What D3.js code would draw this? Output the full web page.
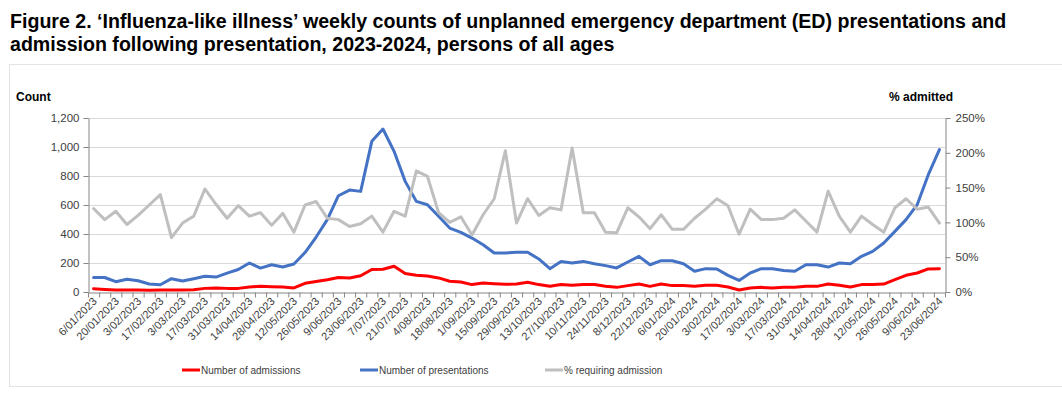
<!DOCTYPE html>
<html>
<head>
<meta charset="utf-8">
<script src="https://cdn.jsdelivr.net/npm/d3@7"></script>
<style>
  body { margin: 0; background: #fff; }
  svg { display: block; font-family: "Liberation Sans", Arial, sans-serif; }
  .title { font-weight: bold; font-size: 19.6px; fill: #000; }
  .axis text { font-size: 11.5px; fill: #404040; }
  .axis .domain, .axis line { stroke: #868686; }
  .xlab { font-size: 11px; fill: #404040; }
  .legend text { font-size: 10px; fill: #404040; }
</style>
</head>
<body>
<div id="chart"></div>
<script>
// tick labels on the category axis (one every second week)
const tickLabels = [
  '6/01/2023', '20/01/2023', '3/02/2023', '17/02/2023', '3/03/2023', '17/03/2023',
  '31/03/2023', '14/04/2023', '28/04/2023', '12/05/2023', '26/05/2023', '9/06/2023',
  '23/06/2023', '7/07/2023', '21/07/2023', '4/08/2023', '18/08/2023', '1/09/2023',
  '15/09/2023', '29/09/2023', '13/10/2023', '27/10/2023', '10/11/2023', '24/11/2023',
  '8/12/2023', '22/12/2023', '6/01/2024', '20/01/2024', '3/02/2024', '17/02/2024',
  '3/03/2024', '17/03/2024', '31/03/2024', '14/04/2024', '28/04/2024', '12/05/2024',
  '26/05/2024', '9/06/2024', '23/06/2024'
];

const admissions = [
  23, 18, 14, 14, 14, 12, 14, 14, 14, 16, 25, 28, 25, 25, 35, 39, 37, 34, 28, 60,
  72, 85, 100, 97, 112, 155, 157, 178, 128, 115, 110, 97, 74, 69, 51, 62, 57, 53, 55, 67,
  51, 39, 51, 46, 51, 51, 39, 32, 44, 55, 39, 55, 44, 44, 39, 46, 46, 34, 14, 28,
  32, 28, 32, 32, 39, 39, 55, 46, 34, 51, 51, 55, 85, 115, 131, 159, 161
];

const presentations = [
  100, 100, 71, 88, 78, 55, 50, 92, 76, 92, 108, 103, 130, 155, 200, 165, 188, 172, 193, 272,
  379, 499, 664, 703, 694, 1039, 1124, 970, 763, 625, 602, 522, 441, 411, 372, 326, 269, 269, 274, 274,
  228, 161, 211, 200, 211, 195, 182, 166, 207, 246, 188, 216, 216, 195, 143, 161, 159, 115, 80, 131,
  161, 161, 149, 143, 188, 188, 172, 200, 195, 246, 280, 338, 418, 499, 602, 809, 982
];

// % requiring admission (secondary axis)
const pctAdmitted = [
  120, 104, 116, 97, 110, 125, 140, 78, 99, 109, 148, 126, 106, 124, 109, 114, 96, 113, 86, 125,
  130, 106, 104, 94, 98, 109, 86, 116, 109, 174, 166, 114, 100, 108, 82, 111, 134, 203, 99, 134,
  110, 121, 118, 207, 114, 114, 86, 85, 121, 108, 91, 111, 90, 90, 106, 119, 134, 124, 83, 119,
  104, 104, 106, 118, 102, 86, 145, 109, 86, 109, 97, 86, 121, 134, 119, 122, 99
];

const countTicks = [0, 200, 400, 600, 800, 1000, 1200];
const pctTicks = [0, 50, 100, 150, 200, 250];

const width = 1062;
const height = 396;
const plot = { left: 88, right: 945, top: 118, bottom: 292 };

const svg = d3.select('#chart').append('svg')
  .attr('width', width)
  .attr('height', height);

svg.append('rect')
  .attr('x', 9.5).attr('y', 64.5)
  .attr('width', 1070).attr('height', 322)
  .attr('fill', 'none')
  .attr('stroke', '#e3e3e3');

svg.append('text').attr('class', 'title')
  .attr('x', 10).attr('y', 28)
  .text('Figure 2. \u2018Influenza-like illness\u2019 weekly counts of unplanned emergency department (ED) presentations and');
svg.append('text').attr('class', 'title')
  .attr('x', 10).attr('y', 51)
  .text('admission following presentation, 2023-2024, persons of all ages');

const idx = d3.range(presentations.length);

const x = d3.scaleBand()
  .domain(idx)
  .range([plot.left, plot.right]);

// category boundaries, for the tick marks
const xEdge = d3.scaleLinear()
  .domain([0, idx.length])
  .range([plot.left, plot.right]);

const yLeft = d3.scaleLinear().domain([0, 1200]).range([plot.bottom, plot.top]);
const yRight = d3.scaleLinear().domain([0, 250]).range([plot.bottom, plot.top]);

// gridlines
svg.append('g')
  .selectAll('line')
  .data(countTicks.slice(1))
  .join('line')
  .attr('x1', plot.left).attr('x2', plot.right)
  .attr('y1', d => yLeft(d) + 0.5).attr('y2', d => yLeft(d) + 0.5)
  .attr('stroke', '#d9d9d9');

svg.append('g')
  .attr('class', 'axis')
  .attr('transform', `translate(${plot.left + 0.5},0)`)
  .call(d3.axisLeft(yLeft).tickValues(countTicks).tickSize(5).tickSizeOuter(0).tickPadding(4).tickFormat(d3.format(',')));

svg.append('g')
  .attr('class', 'axis')
  .attr('transform', `translate(${plot.right + 0.5},0)`)
  .call(d3.axisRight(yRight).tickValues(pctTicks).tickSize(5).tickSizeOuter(0).tickPadding(5).tickFormat(d => d + '%'));

svg.append('g')
  .attr('class', 'axis')
  .attr('transform', `translate(0,${plot.bottom + 0.5})`)
  .call(d3.axisBottom(xEdge).tickValues(d3.range(idx.length + 1)).tickSize(5).tickSizeOuter(0).tickFormat(''));

// rotated category labels
svg.append('g')
  .selectAll('text')
  .data(tickLabels)
  .join('text')
  .attr('class', 'xlab')
  .attr('text-anchor', 'end')
  .attr('transform', (d, k) => `translate(${x(k * 2) + x.bandwidth() / 2 + 4},${plot.bottom + 10}) rotate(-45)`)
  .text(d => d);

svg.append('text')
  .attr('x', 16).attr('y', 101)
  .attr('font-size', 12).attr('font-weight', 'bold')
  .text('Count');
svg.append('text')
  .attr('x', 889).attr('y', 101)
  .attr('font-size', 12).attr('font-weight', 'bold')
  .text('% admitted');

const cx = i => x(i) + x.bandwidth() / 2;

const series = [
  { name: 'Number of admissions', values: admissions, scale: yLeft, color: '#ff0000' },
  { name: 'Number of presentations', values: presentations, scale: yLeft, color: '#4472c4' },
  { name: '% requiring admission', values: pctAdmitted, scale: yRight, color: '#bfbfbf' }
];

series.forEach(s => {
  const line = d3.line()
    .x((d, i) => cx(i))
    .y(d => s.scale(d));
  svg.append('path')
    .datum(s.values)
    .attr('d', line)
    .attr('fill', 'none')
    .attr('stroke', s.color)
    .attr('stroke-width', 3)
    .attr('stroke-linejoin', 'round')
    .attr('stroke-linecap', 'round');
});

// legend
const legendX = [182, 360, 545];
const legend = svg.append('g').attr('class', 'legend');
series.forEach((s, k) => {
  legend.append('line')
    .attr('x1', legendX[k]).attr('x2', legendX[k] + 18)
    .attr('y1', 370).attr('y2', 370)
    .attr('stroke', s.color).attr('stroke-width', 3);
  legend.append('text')
    .attr('x', legendX[k] + 19).attr('y', 373.5)
    .text(s.name);
});
</script>
</body>
</html>
